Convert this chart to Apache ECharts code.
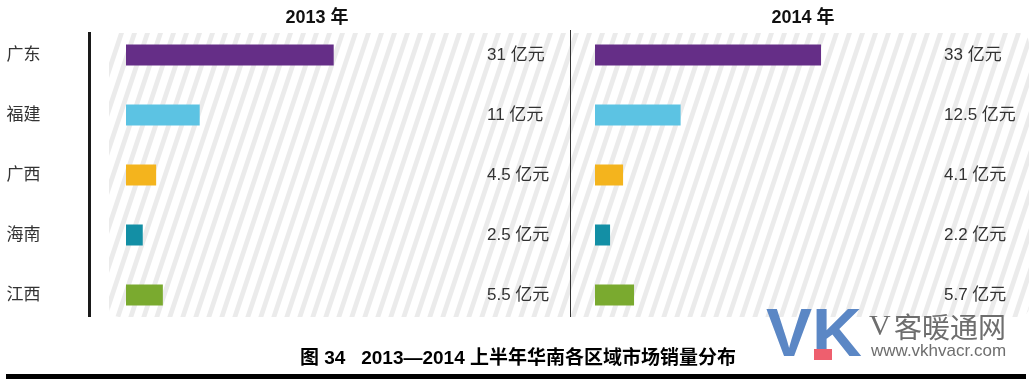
<!DOCTYPE html>
<html>
<head>
<meta charset="utf-8">
<script src="https://cdn.jsdelivr.net/npm/echarts@6/dist/echarts.min.js"></script>
<style>html,body{margin:0;padding:0;background:#fff}#c{width:1032px;height:382px}</style>
</head>
<body>
<div id="c"></div>
<script>
const categories = ['广东', '福建', '广西', '海南', '江西'];
const values2013 = [31, 11, 4.5, 2.5, 5.5];
const values2014 = [33, 12.5, 4.1, 2.2, 5.7];
const yearTitles = ['2013 年', '2014 年'];
const unit = '亿元';
const caption = '图 34   2013—2014 上半年华南各区域市场销量分布';

const barColors = ['#652e87', '#5cc3e3', '#f4b41d', '#138fa5', '#7aaa2f'];
const cjk = '"Liberation Sans", "Noto Sans CJK SC", sans-serif';

// striped pattern
const pc = document.createElement('canvas');
pc.width = 13; pc.height = 39;
const g = pc.getContext('2d');
g.fillStyle = '#fff'; g.fillRect(0, 0, 13, 39);
g.fillStyle = '#ebebeb';
for (let x0 = -26; x0 <= 13; x0 += 13) {
  g.beginPath();
  g.moveTo(x0, 39); g.lineTo(x0 + 5, 39); g.lineTo(x0 + 18, 0); g.lineTo(x0 + 13, 0);
  g.closePath(); g.fill();
}

const chart = echarts.init(document.getElementById('c'));
const grids = [
  { left: 126, top: 25, width: 268, height: 300, outerBoundsMode: 'none' },
  { left: 595, top: 25, width: 274, height: 300, outerBoundsMode: 'none' }
];
const xAxes = [0, 1].map(i => ({
  type: 'value', gridIndex: i, min: 0, max: 40, show: false
}));
const catAxis = (i, show) => ({
  type: 'category', gridIndex: i, data: categories, inverse: true,
  position: 'left', offset: 36.5,
  axisLine: { show: false }, axisTick: { show: false },
  axisLabel: { show: show, align: 'left', margin: 83, fontSize: 17, color: '#333', fontFamily: cjk }
});
const valAxis = (i, vals, off) => ({
  type: 'category', gridIndex: i, data: vals.map(v => v + ' ' + unit), inverse: true,
  position: 'right', offset: off,
  axisLine: { show: false }, axisTick: { show: false },
  axisLabel: { margin: 0, fontSize: 17, color: '#333', fontFamily: cjk }
});

chart.setOption({
  animation: false,
  backgroundColor: '#fff',
  title: [
    { text: yearTitles[0], left: 312, top: 4, textAlign: 'center',
      textStyle: { fontSize: 18, fontWeight: 'bold', color: '#111', fontFamily: cjk } },
    { text: yearTitles[1], left: 798, top: 4, textAlign: 'center',
      textStyle: { fontSize: 18, fontWeight: 'bold', color: '#111', fontFamily: cjk } }
  ],
  grid: grids,
  xAxis: xAxes,
  yAxis: [catAxis(0, true), catAxis(1, false), valAxis(0, values2013, 93), valAxis(1, values2014, 75)],
  series: [
    { type: 'bar', xAxisIndex: 0, yAxisIndex: 0, data: values2013, barWidth: 21, z: 5,
      itemStyle: { color: p => barColors[p.dataIndex] } },
    { type: 'bar', xAxisIndex: 1, yAxisIndex: 1, data: values2014, barWidth: 21, z: 5,
      itemStyle: { color: p => barColors[p.dataIndex] } }
  ],
  graphic: [
    { type: 'rect', z: -10, silent: true,
      shape: { x: 109, y: 33, width: 920, height: 284, r: 10 },
      style: { fill: { image: pc, repeat: 'repeat' } } },
    { type: 'line', z: 10, shape: { x1: 89.5, y1: 32, x2: 89.5, y2: 317 },
      style: { stroke: '#1a1a1a', lineWidth: 3 } },
    { type: 'line', z: 10, shape: { x1: 570.5, y1: 30, x2: 570.5, y2: 317 },
      style: { stroke: '#333', lineWidth: 1 } },
    { type: 'text', z: 10, style: { text: caption, x: 518, y: 359, align: 'center', verticalAlign: 'middle',
      font: 'bold 19px "Liberation Sans", "Noto Sans CJK SC", sans-serif', fill: '#000' } },
    { type: 'rect', z: 10, shape: { x: 6, y: 374, width: 1020, height: 5 }, style: { fill: '#000' } },
    { type: 'text', z: 20, style: { text: 'VK', x: 766, y: 337, verticalAlign: 'middle',
      font: 'bold 69px "Liberation Sans", sans-serif', fill: '#5b87c5' } },
    { type: 'rect', z: 21, shape: { x: 814, y: 349, width: 18, height: 11 }, style: { fill: '#ee5f6e' } },
    { type: 'text', z: 20, style: { text: '{v|V} {c|客暖通网}', x: 869, y: 327, verticalAlign: 'middle',
      fill: '#6e6e6e',
      rich: { v: { fontFamily: '"Liberation Serif", serif', fontSize: 30, fill: '#6e6e6e' },
              c: { fontFamily: '"Noto Sans CJK SC", sans-serif', fontSize: 28, fill: '#6e6e6e' } } } },
    { type: 'text', z: 20, style: { text: 'www.vkhvacr.com', x: 871, y: 351, verticalAlign: 'middle',
      font: '17px "Liberation Sans", sans-serif', fill: '#6e6e6e' } }
  ]
});
</script>
</body>
</html>
